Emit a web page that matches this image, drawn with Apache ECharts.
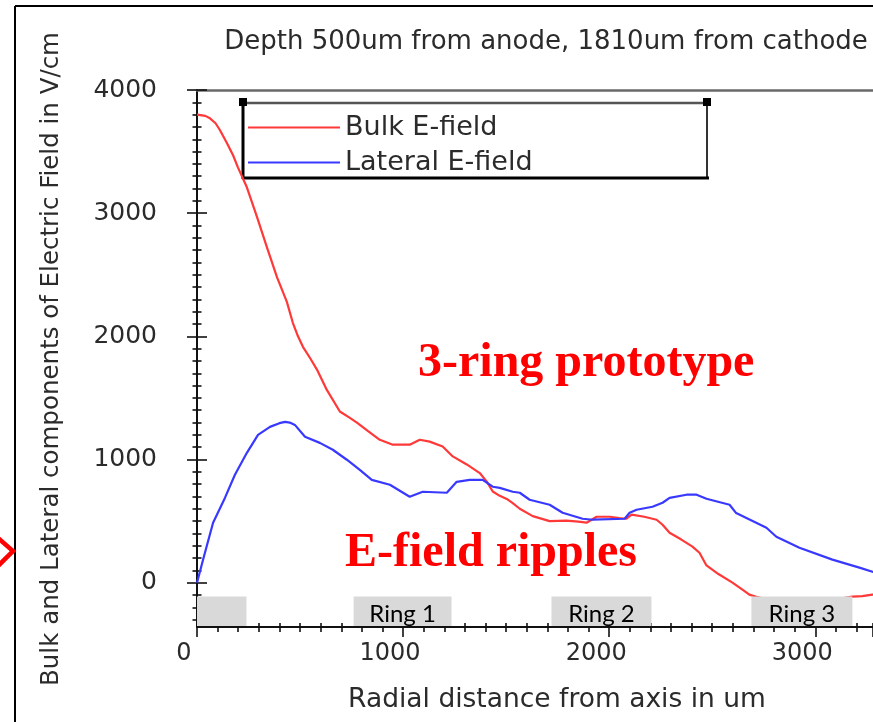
<!DOCTYPE html>
<html>
<head>
<meta charset="utf-8">
<title>Bulk and lateral E-field</title>
<script src="https://cdn.jsdelivr.net/npm/echarts@6/dist/echarts.min.js"></script>
<style>
  html, body { margin: 0; padding: 0; background: #fff; }
  #chart { width: 873px; height: 722px; }
</style>
</head>
<body>
<div id="chart"></div>
<script>
// Radial position (um) and field strength (V/cm)
const bulkX = [0, 40, 63, 90, 111, 145, 175, 199, 242, 291, 339, 388, 436, 465, 490, 514, 550, 582, 630, 693, 740, 776, 830, 887, 950, 1032, 1081, 1129, 1192, 1241, 1309, 1372, 1406, 1435, 1469, 1503, 1532, 1566, 1629, 1711, 1793, 1850, 1890, 1939, 2002, 2050, 2084, 2109, 2170, 2230, 2259, 2293, 2350, 2404, 2438, 2472, 2530, 2598, 2650, 2680, 2714, 2800, 2950, 3100, 3180, 3228, 3277, 3350];
const bulkY = [3800, 3790, 3770, 3730, 3675, 3570, 3470, 3370, 3210, 2970, 2725, 2480, 2280, 2110, 2000, 1915, 1820, 1730, 1565, 1390, 1340, 1300, 1230, 1160, 1120, 1120, 1160, 1145, 1105, 1025, 960, 890, 820, 740, 705, 680, 645, 600, 540, 500, 503, 495, 487, 535, 535, 525, 519, 552, 535, 511, 470, 405, 350, 292, 243, 140, 70, 0, -60, -97, -114, -150, -160, -135, -114, -110, -97, -90];

const lateralX = [0, 30, 78, 136, 184, 242, 296, 354, 400, 427, 450, 475, 524, 596, 659, 727, 790, 848, 936, 1032, 1095, 1212, 1260, 1323, 1386, 1435, 1469, 1532, 1566, 1614, 1711, 1774, 1871, 1920, 2075, 2099, 2133, 2210, 2259, 2293, 2375, 2424, 2472, 2584, 2616, 2763, 2811, 2923, 3083, 3214, 3277, 3350];
const lateralY = [0, 190, 487, 690, 876, 1054, 1200, 1265, 1295, 1306, 1300, 1281, 1184, 1135, 1079, 998, 916, 835, 795, 698, 738, 730, 819, 835, 835, 779, 770, 738, 730, 673, 633, 568, 519, 511, 519, 568, 592, 616, 649, 689, 714, 714, 681, 633, 565, 446, 373, 284, 187, 122, 89, 55];

// Ring electrode extents along the radius (um)
const ringStart = [0, 760, 1720, 2690];
const ringEnd = [240, 1235, 2205, 3180];
const ringLabels = ['', 'Ring 1', 'Ring 2', 'Ring 3'];
const ringTop = -113;

// Axis ranges and tick labels
const xMin = 0, xMax = 3280, xStep = 1000;
const yMin = -360, yMax = 4000;
const xMajorTicks = [0, 1000, 2000, 3000];
const yMajorTicks = [0, 1000, 2000, 3000, 4000];
const minorStep = 100;

const seriesNames = ['Bulk E-field', 'Lateral E-field'];
const titleText = 'Depth 500um from anode, 1810um from cathode';
const xTitle = 'Radial distance from axis in um';
const yTitle = 'Bulk and Lateral components of Electric Field in V/cm';
const notes = ['3-ring prototype', 'E-field ripples'];

function minorValues(lo, hi, majors) {
  const out = [];
  for (let v = Math.ceil(lo / minorStep) * minorStep; v <= hi; v += minorStep) {
    if (majors.indexOf(v) < 0) out.push(v);
  }
  return out;
}
const yMinorTicks = minorValues(yMin, yMax, yMajorTicks);

const pairs = (xs, ys) => xs.map((x, i) => [x, ys[i]]);
// only the round thousands are labelled on the radial axis
const xLabel = (v) => (xMajorTicks.indexOf(v) >= 0 ? String(v) : '');
const yLabel = (v) => String(v);

const SANS = 'DejaVu Sans';
const INK = '#2b2b2b';
const TICK = { color: '#111', width: 1.6 };

function yTickAxis(values, length, inside) {
  return {
    type: 'value', min: yMin, max: yMax, gridIndex: 0, position: 'left',
    axisLine: { show: false, onZero: false },
    splitLine: { show: false },
    axisLabel: { show: false },
    axisTick: { show: true, inside: inside, length: length, customValues: values, lineStyle: TICK }
  };
}

const chart = echarts.init(document.getElementById('chart'), null, { renderer: 'canvas' });

chart.setOption({
  animation: false,
  backgroundColor: '#fff',
  grid: { left: 197, top: 90, right: 0, height: 537, containLabel: false, outerBoundsMode: 'none' },
  legend: {
    left: 248, top: 114, padding: 0, orient: 'vertical',
    icon: 'rect', itemWidth: 92, itemHeight: 2, itemGap: 8,
    data: seriesNames,
    textStyle: { fontFamily: SANS, fontSize: 27, color: INK }
  },
  xAxis: [
    {
      // radial axis: labels, outward major and minor ticks
      type: 'value', min: xMin, max: xMax, interval: xStep, position: 'bottom',
      axisLine: { show: true, onZero: false, lineStyle: { color: '#111', width: 2 } },
      splitLine: { show: false },
      axisTick: { show: true, length: 10, lineStyle: TICK },
      minorTick: { show: true, splitNumber: xStep / minorStep, length: 5, lineStyle: TICK },
      axisLabel: { formatter: xLabel, fontFamily: SANS, fontSize: 24, color: INK,
        margin: 15, padding: [0, 26, 0, 0] }
    },
    {
      // inward half of the crossing ticks
      type: 'value', min: xMin, max: xMax, interval: xStep, position: 'bottom',
      axisLine: { show: false, onZero: false },
      splitLine: { show: false },
      axisLabel: { show: false },
      axisTick: { show: true, inside: true, length: 4, lineStyle: TICK },
      minorTick: { show: true, splitNumber: xStep / minorStep, length: 4, lineStyle: TICK }
    },
    {
      type: 'value', min: xMin, max: xMax, position: 'top',
      axisLine: { show: true, onZero: false, lineStyle: { color: '#6a6a6a', width: 2.5 } },
      axisTick: { show: false }, axisLabel: { show: false }, splitLine: { show: false }
    }
  ],
  yAxis: [
    {
      type: 'value', min: yMin, max: yMax, position: 'left',
      axisLine: { show: true, onZero: false, lineStyle: { color: '#111', width: 2 } },
      splitLine: { show: false },
      axisTick: { show: true, length: 10, customValues: yMajorTicks, lineStyle: TICK },
      axisLabel: { customValues: yMajorTicks, formatter: yLabel, fontFamily: SANS, fontSize: 25, color: INK,
        margin: 40, padding: [6, 0, 0, 0] }
    },
    yTickAxis(yMajorTicks, 10, true),
    yTickAxis(yMinorTicks, 4.5, false),
    yTickAxis(yMinorTicks, 4.5, true)
  ],
  series: [
    {
      name: seriesNames[0], type: 'line', xAxisIndex: 0, yAxisIndex: 0,
      data: pairs(bulkX, bulkY), showSymbol: false, symbol: 'none', z: 2,
      color: '#ff3838', lineStyle: { color: '#ff3838', width: 2.2 }
    },
    {
      name: seriesNames[1], type: 'line', xAxisIndex: 0, yAxisIndex: 0,
      data: pairs(lateralX, lateralY), showSymbol: false, symbol: 'none', z: 2,
      color: '#3838ff', lineStyle: { color: '#3838ff', width: 2.2 }
    },
    {
      // grey electrode blocks sitting on the radial axis
      type: 'custom', xAxisIndex: 0, yAxisIndex: 0, z: 4, clip: false,
      data: ringStart.map((s, i) => [s, ringEnd[i], i]),
      renderItem: function (params, api) {
        const p0 = api.coord([api.value(0), ringTop]);
        const p1 = api.coord([api.value(1), yMin]);
        const label = ringLabels[api.value(2)];
        return {
          type: 'group',
          children: [
            { type: 'rect', shape: { x: p0[0], y: p0[1], width: p1[0] - p0[0], height: p1[1] - p0[1] - 1 },
              style: { fill: '#d9d9d9' } },
            { type: 'text', x: (p0[0] + p1[0]) / 2, y: (p0[1] + p1[1]) / 2 + 2,
              style: { text: label, fill: '#000', fontFamily: 'Lato', fontSize: 24,
                align: 'center', verticalAlign: 'middle' } }
          ]
        };
      }
    }
  ],
  graphic: [
    // outer frame
    { type: 'line', shape: { x1: 15, y1: 6, x2: 873, y2: 6 }, style: { stroke: '#000', lineWidth: 2 } },
    { type: 'line', shape: { x1: 15, y1: 6, x2: 15, y2: 722 }, style: { stroke: '#000', lineWidth: 2 } },
    // arrow touching the frame
    { type: 'polyline', shape: { points: [[-2, 538], [13, 551], [-2, 566]] },
      style: { stroke: '#ff0000', lineWidth: 4.5, fill: null } },
    // legend box
    { type: 'line', shape: { x1: 243, y1: 103, x2: 707, y2: 103 }, style: { stroke: '#555', lineWidth: 2.5 } },
    { type: 'line', shape: { x1: 707, y1: 103, x2: 707, y2: 178 }, style: { stroke: '#333', lineWidth: 2 } },
    { type: 'line', shape: { x1: 243, y1: 101, x2: 243, y2: 179 }, style: { stroke: '#000', lineWidth: 3 } },
    { type: 'line', shape: { x1: 242, y1: 178, x2: 709, y2: 178 }, style: { stroke: '#000', lineWidth: 3 } },
    { type: 'rect', shape: { x: 239, y: 98, width: 8, height: 8 }, style: { fill: '#000' } },
    { type: 'rect', shape: { x: 703, y: 98, width: 8, height: 8 }, style: { fill: '#000' } },
    // titles
    { type: 'text', x: 546, y: 42, style: { text: titleText, fontFamily: SANS, fontSize: 26, fill: INK,
      align: 'center', verticalAlign: 'middle' } },
    { type: 'text', x: 557, y: 700, style: { text: xTitle, fontFamily: SANS, fontSize: 26.5, fill: INK,
      align: 'center', verticalAlign: 'middle' } },
    { type: 'text', x: 52, y: 359, rotation: Math.PI / 2, style: { text: yTitle, fontFamily: SANS, fontSize: 24.5, fill: INK,
      align: 'center', verticalAlign: 'middle' } },
    // annotations
    { type: 'text', x: 418, y: 364, style: { text: notes[0], fontFamily: 'Liberation Serif', fontWeight: 'bold',
      fontSize: 48, fill: '#ff0000', align: 'left', verticalAlign: 'middle' } },
    { type: 'text', x: 345, y: 554, style: { text: notes[1], fontFamily: 'Liberation Serif', fontWeight: 'bold',
      fontSize: 48, fill: '#ff0000', align: 'left', verticalAlign: 'middle' } }
  ]
});
</script>
</body>
</html>
